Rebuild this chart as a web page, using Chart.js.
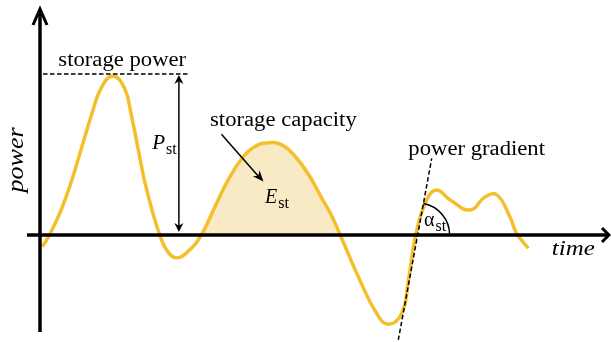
<!DOCTYPE html>
<html>
<head>
<meta charset="utf-8">
<script src="https://cdn.jsdelivr.net/npm/chart.js@4.4.1/dist/chart.umd.min.js"></script>
<style>
  html, body { margin: 0; padding: 0; background: #fff; }
  canvas { display: block; }
</style>
</head>
<body>
<canvas id="storageChart" width="611" height="342"></canvas>
<script>
// power over time (arbitrary units)
const timeValues = [
  0.4, 1.7, 3.8, 5.6, 7.4, 9.2, 10.9, 13.0, 15.1, 16.3, 17.5, 18.7, 20.2, 21.4,
  22.6, 24.3, 26.4, 28.8, 31.3, 33.6, 36.0, 38.4, 40.8, 43.2, 45.5, 47.9, 50.3,
  52.0, 53.6, 57.1, 60.1, 62.2, 64.6, 65.8, 67.1, 68.9, 70.8, 73.2, 76.8, 79.5,
  81.6, 83.9, 85.1, 87.2,
];
const powerValues = [
  -7.3, 0, 15.9, 33.4, 54.2, 75, 91.7, 99.4, 91.7, 75, 54.2, 33.3, 13.1, 0,
  -9.4, -14.2, -10.4, 0, 18.1, 34.4, 47.5, 55.3, 57.7, 56.3, 49.4, 38.1, 23.1,
  12.5, 0, -28.1, -48.9, -55.8, -48.9, -28.1, 0, 20.8, 28.1, 22, 15.6, 23.9,
  25, 11.4, 1.1, -8.3,
];

// shaded hump = storage capacity
const capacityRange = [28.8, 53.6];

// two points on the dashed power gradient tangent
const gradientTime = [63.98, 69.95];
const gradientPower = [-65.6, 47.9];

const curveColor = "#F4BF2A";
const capacityColor = "#F8EAC4";
const serif = '"Liberation Serif", "Times New Roman", serif';
const stretch = 1.134;

const points = timeValues.map((t, i) => ({ x: t, y: powerValues[i] }));
const peakPower = Math.max(...powerValues);

function line(ctx, x1, y1, x2, y2) {
  ctx.beginPath();
  ctx.moveTo(x1, y1);
  ctx.lineTo(x2, y2);
  ctx.stroke();
}

function arrowHead(ctx, x1, y1, x2, y2, len, half) {
  const a = Math.atan2(y2 - y1, x2 - x1);
  const c = Math.cos(a), s = Math.sin(a);
  ctx.beginPath();
  ctx.moveTo(x2, y2);
  ctx.lineTo(x2 - len * c + half * s, y2 - len * s - half * c);
  ctx.lineTo(x2 - len * 0.7 * c, y2 - len * 0.7 * s);
  ctx.lineTo(x2 - len * c - half * s, y2 - len * s + half * c);
  ctx.closePath();
  ctx.fill();
}

function text(ctx, str, x, y, font, sx) {
  ctx.save();
  ctx.font = font;
  ctx.translate(x, y);
  ctx.scale(sx, 1);
  ctx.fillText(str, 0, 0);
  const w = ctx.measureText(str).width * sx;
  ctx.restore();
  return w;
}

function symbol(ctx, main, sub, x, y, mainFont) {
  const w = text(ctx, main, x, y, mainFont, 1);
  text(ctx, sub, x + w + 1, y + 5, "16px " + serif, 1);
}

const sketchPlugin = {
  id: "sketch",
  afterDatasetsDraw(chart) {
    const { ctx, chartArea, scales: { x, y } } = chart;
    const px = (t) => x.getPixelForValue(t);
    const py = (p) => y.getPixelForValue(p);
    const x0 = px(0), y0 = py(0);

    ctx.save();
    ctx.strokeStyle = "#000";
    ctx.fillStyle = "#000";
    ctx.textBaseline = "alphabetic";

    // axes with open arrow heads
    ctx.lineWidth = 3.5;
    line(ctx, x0, chartArea.bottom - 10, x0, chartArea.top + 9);
    line(ctx, x0 - 13, y0, chartArea.right - 2, y0);
    ctx.lineWidth = 3;
    ctx.lineJoin = "miter";
    ctx.beginPath();
    ctx.moveTo(x0 - 7, chartArea.top + 25);
    ctx.lineTo(x0, chartArea.top + 9);
    ctx.lineTo(x0 + 7, chartArea.top + 25);
    ctx.stroke();
    ctx.beginPath();
    ctx.moveTo(chartArea.right - 9, y0 - 7);
    ctx.lineTo(chartArea.right - 2, y0);
    ctx.lineTo(chartArea.right - 9, y0 + 7);
    ctx.stroke();

    // storage power level + P_st double arrow
    ctx.lineWidth = 1.5;
    ctx.setLineDash([4.5, 2.5]);
    const yPeak = py(peakPower) - 2;
    line(ctx, x0 + 3, yPeak, px(26.4), yPeak);
    // power gradient tangent
    const gx1 = px(gradientTime[0]), gy1 = py(gradientPower[0]);
    const gx2 = px(gradientTime[1]), gy2 = py(gradientPower[1]);
    line(ctx, gx1, gy1, gx2, gy2);
    ctx.setLineDash([]);

    const ax = px(24.8);
    line(ctx, ax, yPeak + 6, ax, y0 - 9);
    arrowHead(ctx, ax, y0, ax, yPeak + 1, 9, 4.5);
    arrowHead(ctx, ax, yPeak, ax, y0 - 3, 9, 4.5);

    // angle arc at the zero crossing of the tangent
    const tCross = gradientTime[1] -
      gradientPower[1] * (gradientTime[1] - gradientTime[0]) / (gradientPower[1] - gradientPower[0]);
    const cx = px(tCross);
    const ang = Math.atan2(gy2 - gy1, gx2 - gx1);
    ctx.beginPath();
    ctx.arc(cx, y0, 32, ang, 0);
    ctx.stroke();

    // storage capacity arrow
    const sx1 = px(32.4), sy1 = py(62.9), sx2 = px(39.9), sy2 = py(33.4);
    line(ctx, sx1, sy1, sx2 - 4, sy2 - 4);
    arrowHead(ctx, sx1, sy1, sx2, sy2, 11, 4.5);

    // labels
    const body = "20px " + serif;
    text(ctx, "storage power", px(3.27), py(105.6), body, stretch);
    text(ctx, "storage capacity", px(30.36), py(68.1), body, stretch);
    text(ctx, "power gradient", px(65.77), py(50), body, stretch);
    text(ctx, "time", px(91.4), py(-12.5), "italic 22px " + serif, stretch);

    symbol(ctx, "P", "st", px(20.05), py(53.6), "italic 21px " + serif);
    symbol(ctx, "E", "st", px(40.18), py(20.2), "italic 20px " + serif);
    symbol(ctx, "\u03B1", "st", px(68.57), py(5.6), "20px " + serif);

    ctx.save();
    ctx.translate(px(-3.0), py(46.9));
    ctx.rotate(-Math.PI / 2);
    ctx.scale(stretch, 1);
    ctx.font = "italic 23px " + serif;
    ctx.textAlign = "center";
    ctx.fillText("power", 0, 0);
    ctx.restore();

    ctx.restore();
  },
};

new Chart(document.getElementById("storageChart").getContext("2d"), {
  type: "line",
  data: {
    datasets: [
      {
        data: points,
        borderColor: curveColor,
        borderWidth: 3.5,
        pointRadius: 0,
        tension: 0.45,
        fill: "origin",
        backgroundColor: "rgba(0,0,0,0)",
        segment: {
          backgroundColor: (c) =>
            c.p0.parsed.x >= capacityRange[0] && c.p1.parsed.x <= capacityRange[1]
              ? capacityColor
              : "rgba(0,0,0,0)",
        },
      },
    ],
  },
  options: {
    responsive: false,
    animation: false,
    events: [],
    layout: { padding: 0 },
    plugins: {
      legend: { display: false },
      tooltip: { enabled: false },
    },
    scales: {
      x: { type: "linear", display: false, min: -7.143, max: 101.96 },
      y: { display: false, min: -66.875, max: 146.875 },
    },
  },
  plugins: [sketchPlugin],
});
</script>
</body>
</html>
